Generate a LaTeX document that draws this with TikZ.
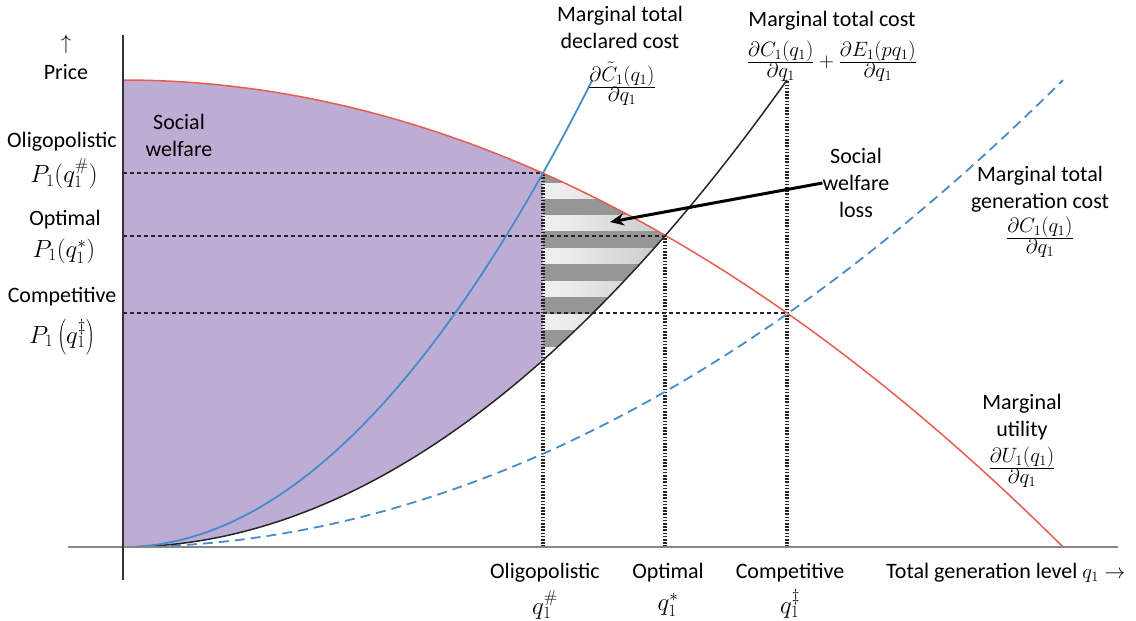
\documentclass[tikz,border=0pt]{standalone}
\usepackage[no-math]{fontspec}
\setmainfont{Carlito}
\usetikzlibrary{arrows.meta}
\definecolor{purplefill}{RGB}{189,173,213}
\definecolor{redc}{RGB}{232,92,82}
\definecolor{bluec}{RGB}{70,140,205}
\definecolor{axisgray}{RGB}{135,135,135}
\definecolor{darkstripe}{RGB}{150,150,150}
\newcommand{\tfr}[2]{\frac{\textstyle #1}{\textstyle #2}}
\pgfdeclarehorizontalshading{lightstripe}{100bp}{color(0bp)=(gray!45); color(8bp)=(white!92!gray); color(35bp)=(white!85!gray); color(100bp)=(gray!62)}
\tikzset{
  lbl/.style={font=\fontsize{22}{27}\selectfont, align=center, inner sep=0pt},
  mth/.style={font=\fontsize{24}{27}\selectfont, align=center, inner sep=0pt},
  frc/.style={font=\fontsize{21}{23}\selectfont, inner sep=0pt},
  hdash/.style={line width=2pt, dash pattern=on 4pt off 3pt, black!85},
  vdot/.style={line width=3.2pt, dash pattern=on 1.6pt off 1.6pt, black!85},
}
\begin{document}
\begin{tikzpicture}[x=1pt,y=-1pt]
\useasboundingbox (0,0) rectangle (1136,621);
% key coordinates
\coordinate (O) at (123,547);
\coordinate (Utop) at (123,80);
\coordinate (A) at (543,173.2);
\coordinate (Ab) at (543,360.2);
\coordinate (B) at (665,235.5);
\coordinate (C) at (787,313);
\coordinate (Ctop) at (787,80);
\coordinate (Ax) at (543,547);
\coordinate (Bx) at (665,547);
\coordinate (Cx) at (787,547);
\coordinate (Ay) at (123,173.2);
\coordinate (By) at (123,235.5);
\coordinate (Cy) at (123,313);
\coordinate (xs) at (68,547);
\coordinate (xe) at (1118,547);
\coordinate (ys) at (123,580);
\coordinate (ye) at (123,35);
\coordinate (arrE) at (610,222);
% social welfare area
\fill[purplefill] (O) -- (Utop) -- plot[domain=123:543,samples=80] (\x,{80+5.285*((\x-123)/100)^2}) -- (Ab) -- plot[domain=543:123,samples=80] (\x,{547-10.592*((\x-123)/100)^2}) -- cycle;
% welfare loss area
\begin{scope}
\clip (A) -- plot[domain=543:665,samples=40] (\x,{80+5.285*((\x-123)/100)^2}) -- plot[domain=665:543,samples=40] (\x,{547-10.592*((\x-123)/100)^2}) -- cycle;
\fill[darkstripe] (540,170) rectangle (670,365);
\foreach \i in {0,...,5} {
  \shade[shading=lightstripe] (543,{183+32.8*\i}) rectangle (670,{198+32.8*\i});
}
\end{scope}
% price levels
\draw[hdash] (Ay) -- (A);
\draw[hdash] (By) -- (B);
\draw[hdash] (Cy) -- (C);
% quantity levels
\draw[vdot] (Ax) -- (A);
\draw[vdot] (Bx) -- (B);
\draw[vdot] (Cx) -- (Ctop);
% curves
\draw[bluec, line width=1.8pt, dash pattern=on 10pt off 6pt] plot[domain=123:1063,samples=120] (\x,{547-5.285*((\x-123)/100)^2});
\draw[redc, line width=1.5pt] plot[domain=123:1063,samples=120] (\x,{80+5.285*((\x-123)/100)^2});
\draw[black!85, line width=1.5pt] plot[domain=123:787,samples=100] (\x,{547-10.592*((\x-123)/100)^2});
\draw[bluec, line width=1.8pt] plot[domain=123:592.3,samples=100] (\x,{547-21.2*((\x-123)/100)^2});
% axes
\draw[axisgray, line width=1.5pt] (xs) -- (xe);
\draw[black!80, line width=1.3pt] (ys) -- (ye);
% labels left
\node[lbl] (uparr) at (66,44) {$\uparrow$};
\node[lbl] (price) at (66,72) {Price};
\node[lbl] (oligL) at (62,142) {Oligopolistic};
\node[mth] (oligP) at (64,174) {$P_1\bigl(q_1^{\#}\bigr)$};
\node[lbl] (optL) at (65,220) {Optimal};
\node[mth] (optP) at (64,251) {$P_1(q_1^{*})$};
\node[lbl] (compL) at (62,297) {Competitive};
\node[mth] (compP) at (62,337) {$P_1\left(q_1^{\ddagger}\right)$};
\node[lbl] (sw) at (179,135) {Social\\welfare};
% labels top
\node[lbl] (mtdc) at (620,27) {Marginal total\\declared cost};
\node[frc] (mtdcf) at (622,84) {$\tfr{\partial \tilde{C}_1(q_1)}{\partial q_1}$};
\node[lbl] (mtc) at (832,21) {Marginal total cost};
\node[frc] (mtcf) at (832,61) {$\tfr{\partial C_1(q_1)}{\partial q_1}+\tfr{\partial E_1(pq_1)}{\partial q_1}$};
% labels right
\node[lbl] (mtgc) at (1040,189) {Marginal total\\generation cost};
\node[frc] (mtgcf) at (1040,237) {$\tfr{\partial C_1(q_1)}{\partial q_1}$};
\node[lbl] (mu) at (1022,417) {Marginal\\utility};
\node[frc] (muf) at (1022,467) {$\tfr{\partial U_1(q_1)}{\partial q_1}$};
% welfare loss
\node[lbl] (swl) at (856,183) {Social\\welfare\\loss};
\draw[line width=3pt, -{Stealth[length=14pt,width=12pt]}] (swl.west) -- (arrE);
% bottom labels
\node[lbl] (oligB) at (545,573) {Oligopolistic};
\node[mth] (oligq) at (545,605) {$q_1^{\#}$};
\node[lbl] (optB) at (668,573) {Optimal};
\node[mth] (optq) at (668,605) {$q_1^{*}$};
\node[lbl] (compB) at (790,573) {Competitive};
\node[mth] (compq) at (790,604) {$q_1^{\ddagger}$};
\node[lbl, anchor=west] (tgl) at (886,573) {Total generation level $q_1\rightarrow$};
\end{tikzpicture}
\end{document}
